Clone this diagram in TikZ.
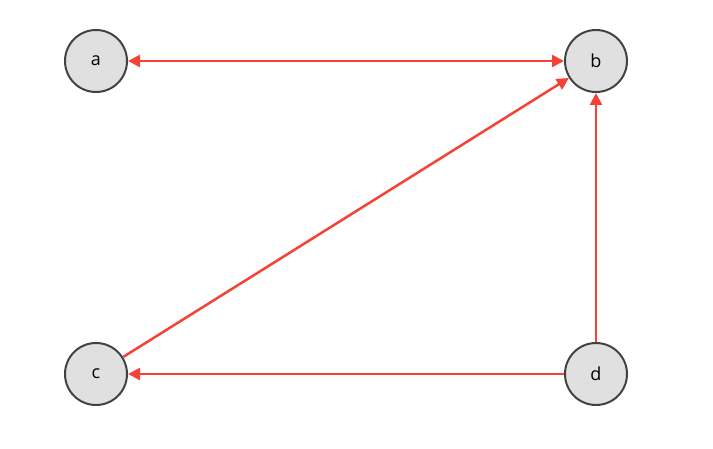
\documentclass[tikz,border=0pt]{standalone}
\usepackage{fontspec}
\setmainfont{Open Sans}
\usetikzlibrary{arrows.meta}
\definecolor{edgered}{HTML}{F44336}
\definecolor{nodefill}{HTML}{E0E0E0}
\definecolor{nodeline}{HTML}{424242}
\begin{document}
\begin{tikzpicture}[x=1pt,y=-1pt,
  vtx/.style={circle,draw=nodeline,fill=nodefill,line width=2pt,minimum size=62pt,inner sep=0pt,font=\fontsize{18}{20}\selectfont},
  edge/.style={draw=edgered,line width=2.5pt,-{Triangle[length=12pt,width=12pt]}}]
\useasboundingbox (0,0) rectangle (713,449);
\node[vtx] (a) at (96,61) {a};
\node[vtx] (b) at (596,61) {b};
\node[vtx] (c) at (96,374) {c};
\node[vtx] (d) at (596,374) {d};
\draw[edge,{Triangle[length=12pt,width=12pt]}-{Triangle[length=12pt,width=12pt]}] (a) -- (b);
\draw[edge] (c) -- (b);
\draw[edge] (d) -- (b);
\draw[edge] (d) -- (c);
\end{tikzpicture}
\end{document}
